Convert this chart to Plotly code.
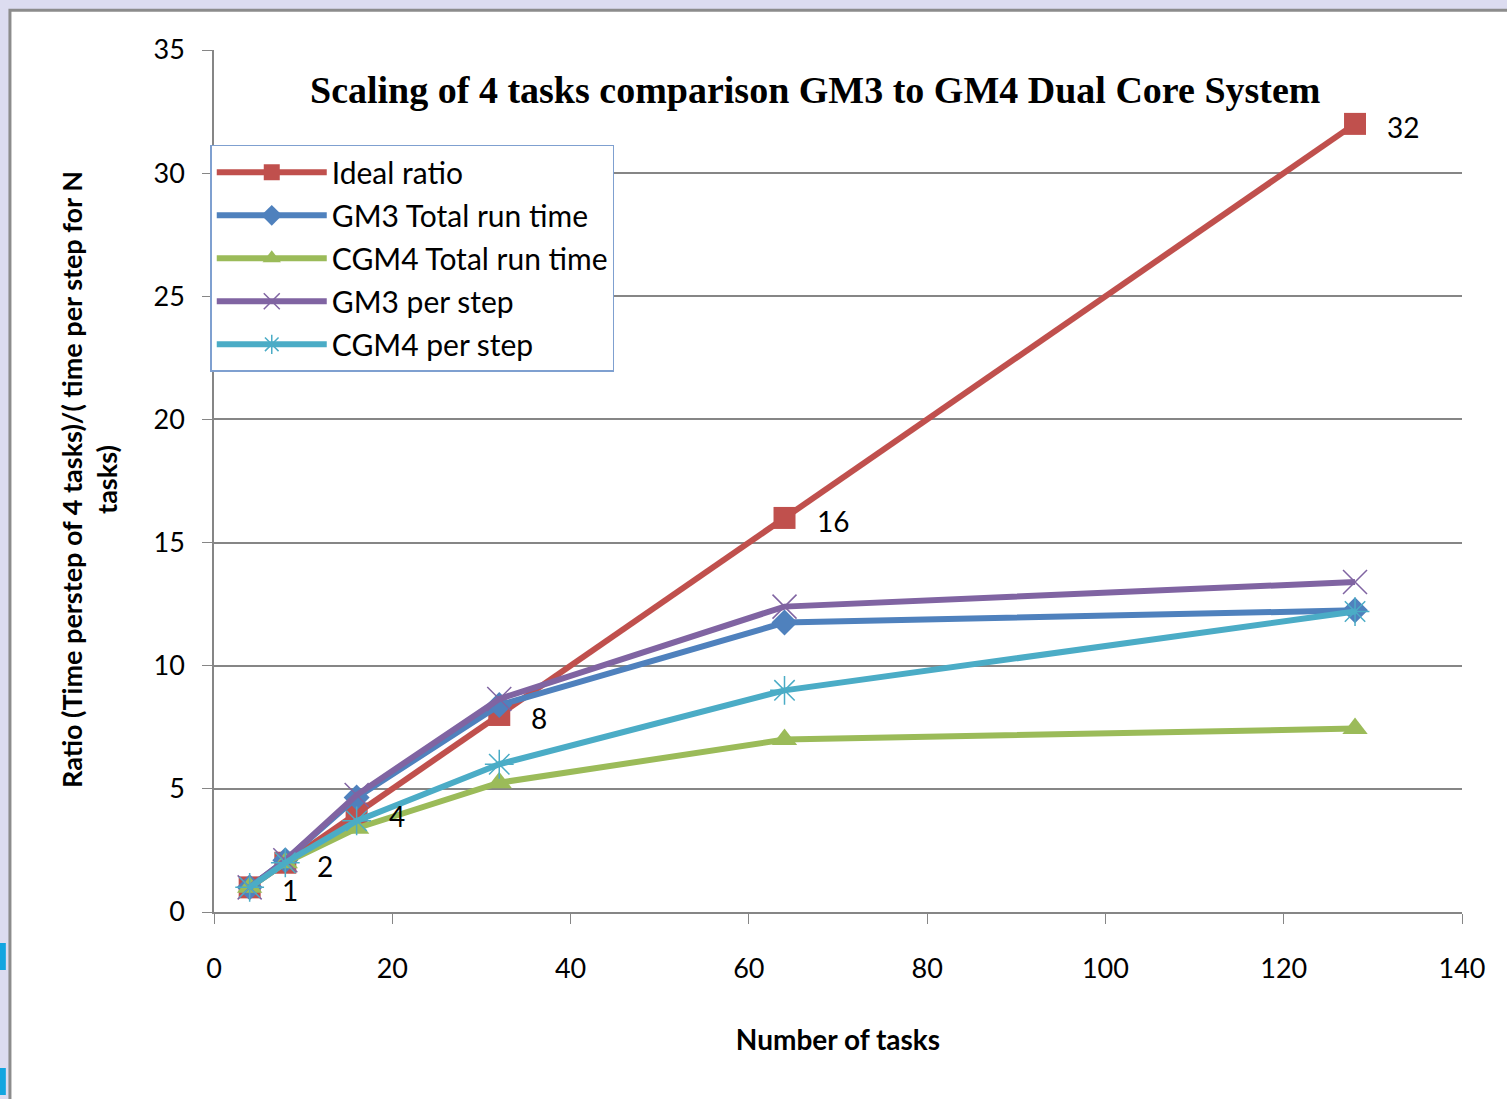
import plotly.graph_objects as go

tasks = [4, 8, 16, 32, 64, 128]
ideal_ratio = [1, 2, 4, 8, 16, 32]
gm3_total = [1, 2.1, 4.65, 8.4, 11.75, 12.25]
cgm4_total = [1, 2.0, 3.4, 5.25, 7.0, 7.45]
gm3_step = [1, 2.1, 4.75, 8.65, 12.4, 13.4]
cgm4_step = [1, 2.0, 3.7, 6.0, 9.0, 12.2]
ideal_labels = ["1", "2", "4", "8", "16", "32"]

series = [
    ("Ideal ratio", ideal_ratio, "#C0504D", "square", 22, None),
    ("GM3 Total run time", gm3_total, "#4F81BD", "diamond", 20, None),
    ("CGM4 Total run time", cgm4_total, "#9BBB59", "triangle-up", 22, None),
    ("GM3 per step", gm3_step, "#8064A2", "x-thin-open", 24, 1.5),
    ("CGM4 per step", cgm4_step, "#4BACC6", "asterisk-open", 24, 1.5),
]

fig = go.Figure()
for i, (name, vals, col, sym, size, lw) in enumerate(series):
    marker = dict(symbol=sym, size=size, color=col)
    if lw:
        marker["line"] = dict(width=lw, color=col)
    fig.add_trace(go.Scatter(x=tasks, y=vals, name=name, mode="lines+markers",
                             legendgroup=f"g{i}",
                             line=dict(color=col, width=6), marker=marker))

for xv, yv, lab in zip(tasks, ideal_ratio, ideal_labels):
    fig.add_annotation(x=xv, y=yv, text=lab, showarrow=False, xanchor="left",
                       xshift=30, yshift=-3, font=dict(family="Lato", size=28, color="#000"))

# page background decorations
fig.add_shape(type="rect", xref="paper", yref="paper", x0=-0.1635, x1=1.04, y0=-0.22, y1=1.046,
              fillcolor="white", line=dict(color="#8C8C8C", width=3), layer="below")
for y0, y1 in [((912-970)/862, (912-943)/862), ((912-1095)/862, (912-1068)/862)]:
    fig.add_shape(type="rect", xref="paper", yref="paper", x0=-0.1715, x1=-0.1668, y0=y0, y1=y1,
                  fillcolor="#12A5E0", line=dict(width=0), layer="below")

fig.add_annotation(xref="paper", yref="paper", x=0.4816, y=(912-90)/862, xanchor="center", yanchor="middle",
                   text="<b>Scaling of 4 tasks comparison GM3 to GM4 Dual Core System</b>",
                   showarrow=False, font=dict(family="Liberation Serif", size=38, color="#000"))
fig.add_annotation(xref="paper", yref="paper", x=(89-214)/1248, y=(912-480)/862, textangle=-90,
                   xanchor="center", yanchor="middle",
                   text="<b>Ratio (Time perstep of 4 tasks)/( time per step for N<br>tasks)</b>",
                   showarrow=False, font=dict(family="Lato", size=27, color="#000"))

fig.update_layout(
    width=1507, height=1099,
    margin=dict(l=214, r=45, t=50, b=187),
    paper_bgcolor="#DCDCF0", plot_bgcolor="white",
    showlegend=True,
    legend=dict(x=-0.003, y=0.89, xanchor="left", yanchor="top",
                bgcolor="white", bordercolor="#7FA0D0", borderwidth=1.5,
                font=dict(family="Lato", size=30, color="#000"),
                itemwidth=110, tracegroupgap=1),
    font=dict(family="Lato", size=27, color="#000"),
)
fig.update_xaxes(range=[0, 140], dtick=20, showgrid=False, showline=True, linecolor="#868686",
                 linewidth=1.5, ticks="outside", ticklen=10, tickcolor="#868686", zeroline=False,
                 tickfont=dict(family="Lato", size=27), ticklabelstandoff=22,
                 title=dict(text="<b>Number of tasks</b>", font=dict(family="Lato", size=28), standoff=47))
fig.update_yaxes(range=[0, 35], dtick=5, showgrid=True, gridcolor="#868686", gridwidth=1.5,
                 showline=True, linecolor="#868686", linewidth=1.5, ticks="outside", ticklen=10,
                 tickcolor="#868686", zeroline=False, tickfont=dict(family="Lato", size=27),
                 ticklabelstandoff=12)

fig.write_html("out.html")
